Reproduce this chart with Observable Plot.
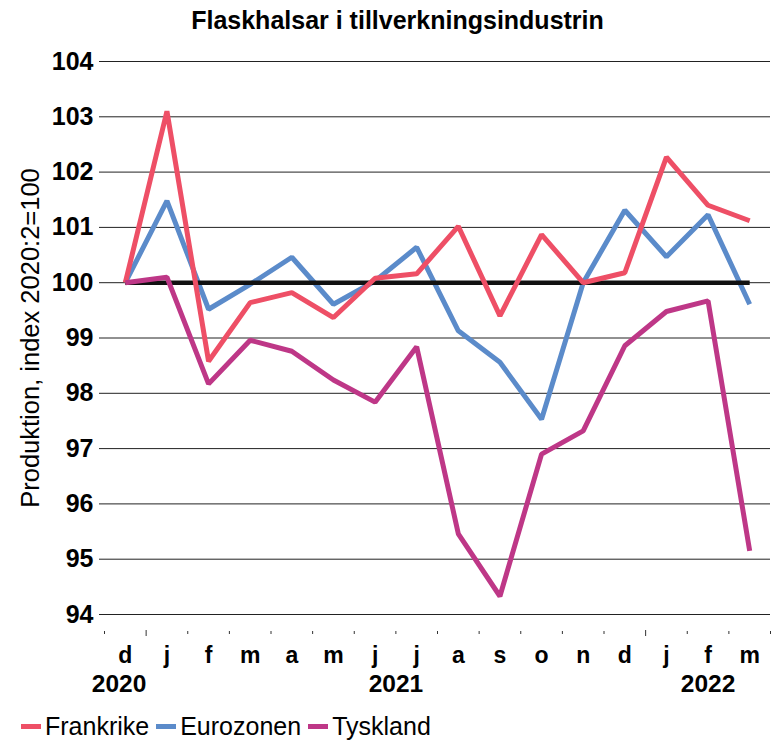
<!DOCTYPE html>
<html>
<head>
<meta charset="utf-8">
<script src="https://cdn.jsdelivr.net/npm/d3@7"></script>
<script src="https://cdn.jsdelivr.net/npm/@observablehq/plot@0.6"></script>
<style>
  html, body { margin: 0; padding: 0; background: #fff; }
  body { font-family: "Liberation Sans", Arial, sans-serif; width: 775px; height: 743px; position: relative; overflow: hidden; }
  #title { position: absolute; left: 10px; top: 0; width: 775px; height: 40px; line-height: 40px; text-align: center; font-weight: bold; font-size: 25px; color: #000; }
  #chart { position: absolute; left: 0; top: 40px; }
  #legend { position: absolute; left: 21px; top: 712px; display: flex; align-items: center; font-size: 25px; color: #000; }
  .item { display: flex; align-items: center; margin-right: 7px; }
  .sw { width: 20px; height: 5px; margin-right: 4px; }
</style>
</head>
<body>
<div id="title">Flaskhalsar i tillverkningsindustrin</div>
<div id="chart"></div>
<div id="legend"></div>
<script>
// ---- data ----
const months = ["d", "j", "f", "m", "a", "m", "j", "j", "a", "s", "o", "n", "d", "j", "f", "m"];
const years = ["2020", "2021", "2022"];
const yearCenters = [-0.15, 6.5, 14]; // category position at the middle of each year group
const yearBoundaries = [0.5, 12.5];
const frankrike = [100, 103.1, 98.58, 99.64, 99.82, 99.37, 100.08, 100.16, 101.02, 99.40, 100.87, 100.0, 100.18, 102.27, 101.40, 101.12];
const eurozonen = [100, 101.48, 99.52, 99.97, 100.46, 99.61, 100.03, 100.64, 99.13, 98.56, 97.53, 100.0, 101.31, 100.47, 101.23, 99.61];
const tyskland  = [100, 100.1, 98.17, 98.96, 98.76, 98.24, 97.84, 98.84, 95.46, 94.33, 96.90, 97.32, 98.86, 99.48, 99.67, 95.15];
const baseline  = months.map(() => 100);
const yTicks = [94, 95, 96, 97, 98, 99, 100, 101, 102, 103, 104];
const seriesNames = ["Frankrike", "Eurozonen", "Tyskland"];
const seriesColors = ["#EE4F66", "#5B8BCA", "#BE3787"];

const idx = months.map((_, i) => i);
const rows = (arr) => arr.map((v, i) => ({i, v}));
const boundariesAll = d3.range(0, months.length + 1).map(i => i - 0.5);
const minorBoundaries = boundariesAll.filter(b => !yearBoundaries.includes(b));

const chart = Plot.plot({
  width: 775,
  height: 660,
  marginLeft: 104,
  marginRight: 5,
  marginTop: 21,
  marginBottom: 86,
  style: {fontFamily: "'Liberation Sans', Arial, sans-serif", color: "#000", background: "#fff"},
  x: {type: "linear", domain: [-0.5, months.length - 0.5], axis: null},
  y: {domain: [94, 104], axis: null},
  marks: [
    Plot.gridY(yTicks, {stroke: "#222", strokeOpacity: 1, strokeWidth: 1}),
    Plot.axisY(yTicks, {tickSize: 5, tickPadding: 6, fontSize: 25, fontWeight: "bold", stroke: "#222", tickFormat: d => String(d), label: null}),
    Plot.text(["Produktion, index 2020:2=100"], {frameAnchor: "left", dx: -74, rotate: -90, fontSize: 25.5, textAnchor: "middle", lineAnchor: "middle", fill: "#000"}),
    // category ticks below the plot
    Plot.axisX(minorBoundaries, {tickSize: 3, dy: 17, tickFormat: () => "", stroke: "#333", label: null}),
    Plot.axisX(yearBoundaries, {tickSize: 6, dy: 16, tickFormat: () => "", stroke: "#333", label: null}),
    Plot.text(idx, {x: i => i, text: i => months[i], frameAnchor: "bottom", dy: 41, lineAnchor: "middle", fontSize: 23, fontWeight: "bold", fill: "#000"}),
    Plot.text(years, {x: (d, j) => yearCenters[j], text: d => d, frameAnchor: "bottom", dy: 70, lineAnchor: "middle", fontSize: 24.5, fontWeight: "bold", fill: "#000"}),
    // series
    Plot.line(rows(eurozonen), {x: "i", y: "v", stroke: seriesColors[1], strokeWidth: 5, strokeLinejoin: "miter", strokeLinecap: "butt"}),
    Plot.line(rows(baseline), {x: "i", y: "v", stroke: "#111", strokeWidth: 4.5, strokeLinecap: "butt"}),
    Plot.line(rows(frankrike), {x: "i", y: "v", stroke: seriesColors[0], strokeWidth: 5, strokeLinejoin: "miter", strokeLinecap: "butt"}),
    Plot.line(rows(tyskland), {x: "i", y: "v", stroke: seriesColors[2], strokeWidth: 5, strokeLinejoin: "miter", strokeLinecap: "butt"})
  ]
});
document.getElementById("chart").appendChild(chart);

const legend = document.getElementById("legend");
seriesNames.forEach((name, k) => {
  const item = document.createElement("div");
  item.className = "item";
  const sw = document.createElement("div");
  sw.className = "sw";
  sw.style.background = seriesColors[k];
  const label = document.createElement("span");
  label.textContent = name;
  item.appendChild(sw);
  item.appendChild(label);
  legend.appendChild(item);
});
</script>
</body>
</html>
